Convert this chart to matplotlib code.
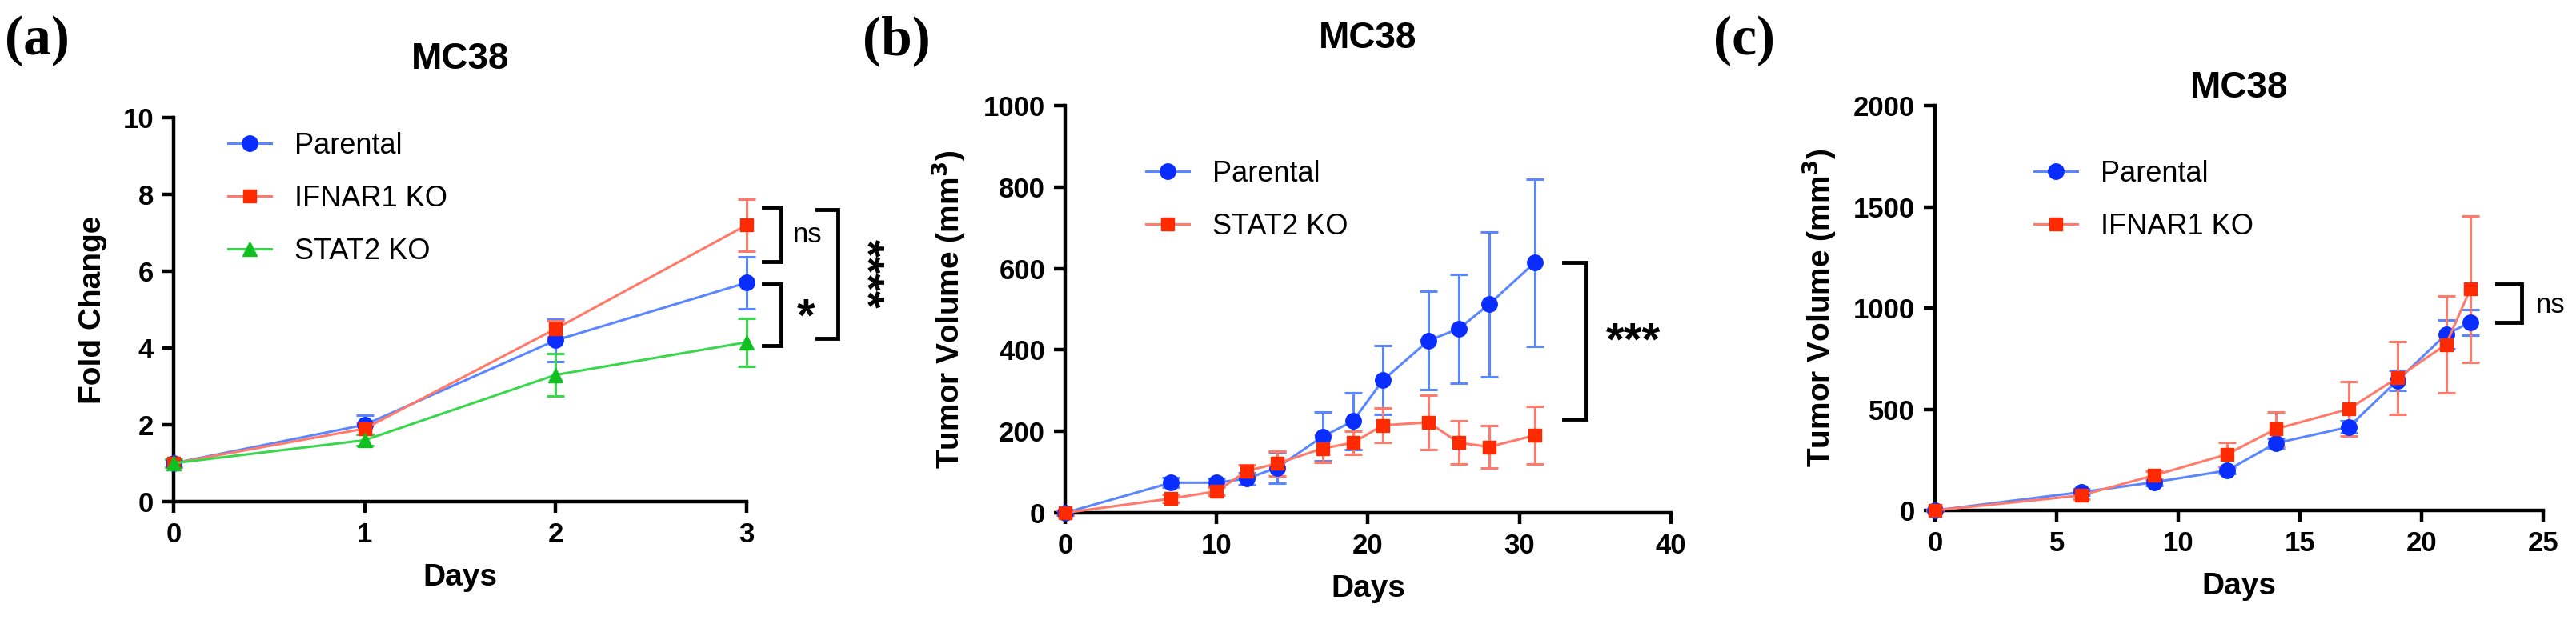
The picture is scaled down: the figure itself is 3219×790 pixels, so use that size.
import numpy as np
import matplotlib
matplotlib.use("Agg")
import matplotlib.pyplot as plt

plt.rcParams['font.family'] = ['Liberation Sans', 'DejaVu Sans']

# Colores de las series
azul_linea, azul_marca = '#5a86ff', '#0a2dff'
rojo_linea, rojo_marca = '#ff7a6a', '#ff2a00'
verde_linea, verde_marca = '#3ad64e', '#10c020'

# ---------------- Datos panel (a) ----------------
dias_a = [0, 1, 2, 3]
parental_a = [1.0, 2.0, 4.2, 5.7]
parental_a_err = [0.1, 0.25, 0.55, 0.68]
ifnar1_a = [1.0, 1.9, 4.5, 7.2]
ifnar1_a_err = [0.1, 0.15, 0.2, 0.68]
stat2_a = [1.0, 1.6, 3.3, 4.15]
stat2_a_err = [0.1, 0.15, 0.55, 0.62]

# ---------------- Datos panel (b) ----------------
dias_b = [0, 7, 10, 12, 14, 17, 19, 21, 24, 26, 28, 31]
parental_b = [0, 74, 74, 84, 111, 187, 225, 326, 423, 452, 512, 614]
parental_b_err = [5, 12, 10, 15, 38, 60, 69, 85, 121, 134, 178, 205]
stat2_b = [0, 35, 53, 103, 121, 158, 172, 215, 222, 172, 162, 190]
stat2_b_err = [5, 10, 10, 15, 30, 35, 29, 42, 66, 53, 52, 71]

# ---------------- Datos panel (c) ----------------
dias_c = [0, 6, 9, 12, 14, 17, 19, 21, 22]
parental_c = [0, 90, 139, 197, 332, 412, 641, 870, 929]
parental_c_err = [5, 15, 15, 15, 25, 30, 50, 70, 65]
ifnar1_c = [0, 74, 173, 277, 402, 501, 655, 820, 1093]
ifnar1_c_err = [5, 20, 20, 60, 86, 134, 179, 239, 362]

fig = plt.figure(figsize=(32.19, 7.9), dpi=100)


def serie(ax, x, y, err, linea, marca, marker, ms, label):
    c = ax.errorbar(x, y, yerr=err, color=linea, lw=2.2, elinewidth=2.2,
                    capsize=8, capthick=2.2, marker=marker, ms=ms,
                    mfc=marca, mec=marca, clip_on=False, zorder=3)
    c[0].set_label(label)
    return c[0]


def estilo(ax, xlim, ylim, xticks, yticks):
    ax.set_xlim(xlim)
    ax.set_ylim(ylim)
    ax.set_xticks(xticks)
    ax.set_yticks(yticks)
    for s in ['top', 'right']:
        ax.spines[s].set_visible(False)
    for s in ['left', 'bottom']:
        ax.spines[s].set_linewidth(3.2)
    ax.tick_params(width=3.2, length=10, labelsize=25, pad=8)
    for t in ax.get_xticklabels() + ax.get_yticklabels():
        t.set_fontweight('bold')
    ax.set_xlabel('Days', fontsize=28, fontweight='bold', labelpad=14)


def corchete(ax, x0, x1, y0, y1, lw=3.5):
    ax.plot([x0, x1, x1, x0], [y0, y0, y1, y1], color='black', lw=lw,
            clip_on=False, solid_joinstyle='miter')


def leyenda(ax, handles, ancla):
    ax.legend(handles=handles, labels=[h.get_label() for h in handles],
              loc='upper left', bbox_to_anchor=ancla,
              frameon=False, fontsize=26, handlelength=1.5,
              handletextpad=0.8, labelspacing=0.85)


# -------- (a) --------
ax1 = fig.add_axes([0.0674, 0.2063, 0.2224, 0.6076])
h1 = serie(ax1, dias_a, parental_a, parental_a_err, azul_linea, azul_marca, 'o', 14, 'Parental')
h2 = serie(ax1, dias_a, ifnar1_a, ifnar1_a_err, rojo_linea, rojo_marca, 's', 12, 'IFNAR1 KO')
h3 = serie(ax1, dias_a, stat2_a, stat2_a_err, verde_linea, verde_marca, '^', 13, 'STAT2 KO')
estilo(ax1, (0, 3), (0, 10), [0, 1, 2, 3], [0, 2, 4, 6, 8, 10])
ax1.set_ylabel('Fold Change', fontsize=28, fontweight='bold', labelpad=14)
ax1.set_title('MC38', fontsize=33, fontweight='bold', pad=44)
corchete(ax1, 3.09, 3.18, 7.66, 6.26)
corchete(ax1, 3.09, 3.18, 5.67, 4.06)
corchete(ax1, 3.37, 3.48, 7.6, 4.25)
ax1.text(3.32, 6.95, 'ns', fontsize=25, ha='center', va='center')
ax1.text(3.31, 4.75, '*', fontsize=42, fontweight='bold', ha='center', va='center')
ax1.text(3.62, 5.93, '****', fontsize=40, fontweight='bold', ha='center',
         va='center', rotation=-90)
leyenda(ax1, [h1, h2, h3], (0.05, 1.03))

# -------- (b) --------
ax2 = fig.add_axes([0.4135, 0.1886, 0.2351, 0.6443])
h1 = serie(ax2, dias_b, parental_b, parental_b_err, azul_linea, azul_marca, 'o', 14, 'Parental')
h2 = serie(ax2, dias_b, stat2_b, stat2_b_err, rojo_linea, rojo_marca, 's', 12, 'STAT2 KO')
estilo(ax2, (0, 40), (0, 1000), [0, 10, 20, 30, 40], [0, 200, 400, 600, 800, 1000])
ax2.set_ylabel('Tumor Volume (mm$^{\\mathbf{3}}$)', fontsize=28, fontweight='bold', labelpad=14)
ax2.set_title('MC38', fontsize=33, fontweight='bold', pad=52)
corchete(ax2, 32.9, 34.4, 614, 230)
ax2.text(37.5, 418, '***', fontsize=42, fontweight='bold', ha='center', va='center')
leyenda(ax2, [h1, h2], (0.09, 0.93))

# -------- (c) --------
ax3 = fig.add_axes([0.7512, 0.1924, 0.2361, 0.6405])
h1 = serie(ax3, dias_c, parental_c, parental_c_err, azul_linea, azul_marca, 'o', 14, 'Parental')
h2 = serie(ax3, dias_c, ifnar1_c, ifnar1_c_err, rojo_linea, rojo_marca, 's', 12, 'IFNAR1 KO')
estilo(ax3, (0, 25), (0, 2000), [0, 5, 10, 15, 20, 25], [0, 500, 1000, 1500, 2000])
ax3.set_ylabel('Tumor Volume (mm$^{\\mathbf{3}}$)', fontsize=28, fontweight='bold', labelpad=14)
ax3.set_title('MC38', fontsize=33, fontweight='bold', pad=6)
corchete(ax3, 23.1, 24.1, 1118, 929)
ax3.text(25.3, 1015, 'ns', fontsize=25, ha='center', va='center')
leyenda(ax3, [h1, h2], (0.12, 0.93))

# Etiquetas de panel
for xx, letra in [(0.002, '(a)'), (0.335, '(b)'), (0.665, '(c)')]:
    fig.text(xx, 0.935, letra, fontsize=50, fontweight='bold',
             family='Liberation Serif', ha='left', va='center')

fig.savefig('out.png', dpi=100, facecolor='white')
